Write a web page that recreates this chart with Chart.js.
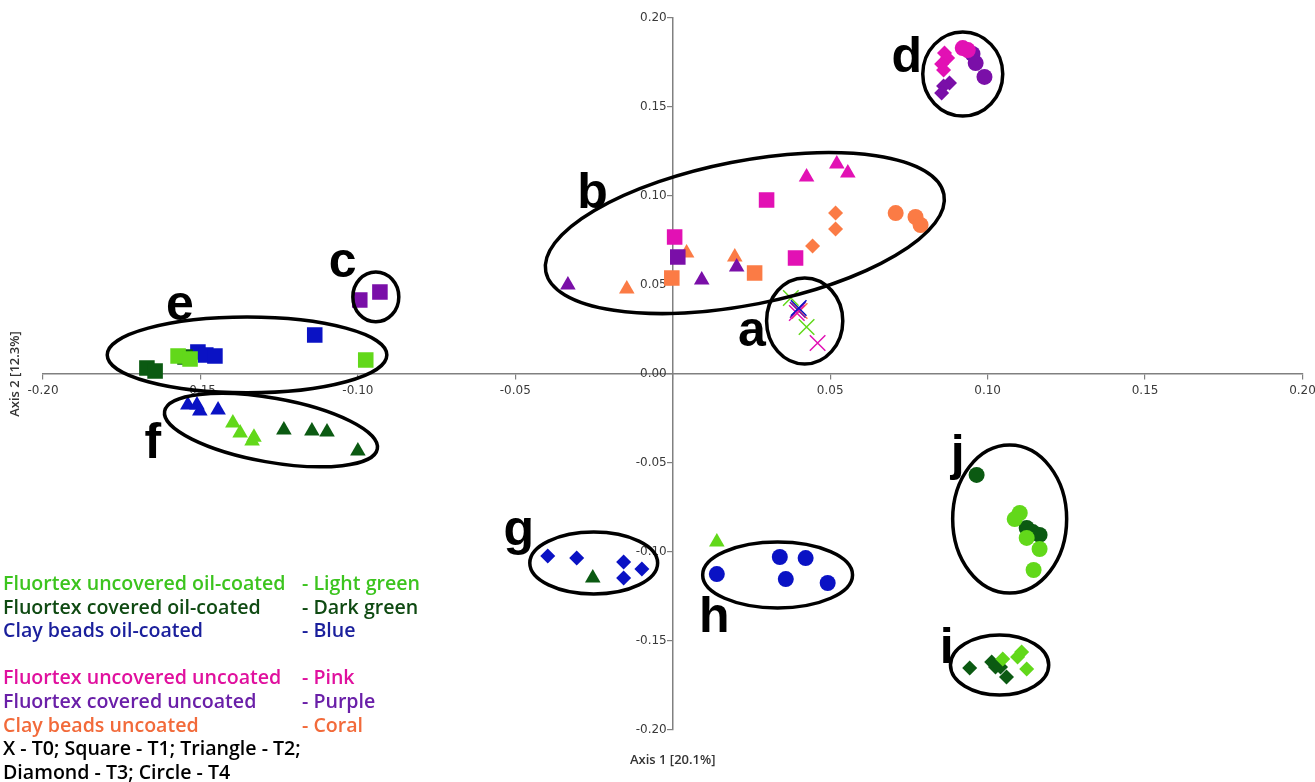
<!DOCTYPE html>
<html>
<head>
<meta charset="utf-8">
<script src="https://cdn.jsdelivr.net/npm/chart.js@4"></script>
<style>
  body { margin: 0; background: #fff; }
  #wrap { position: relative; width: 1315px; height: 782px; }
  #legend { position: absolute; left: 3px; top: 571px; font-family: "Open Sans", sans-serif; font-weight: 600; font-size: 19.6px; line-height: 23.6px; }
  #legend div { position: relative; height: 23.6px; white-space: nowrap; }
  #legend span.c2 { position: absolute; left: 299px; }
</style>
</head>
<body>
<div id="wrap">
  <canvas id="chart" width="1315" height="782"></canvas>
  <div id="legend"></div>
</div>
<script>
// points: [axis1, axis2, time]
const lightGreen = [
  [0.0375, 0.0427, "T0"], [0.0425, 0.0264, "T0"],
  [-0.1571, 0.0101, "T1"], [-0.1533, 0.0084, "T1"], [-0.0975, 0.0079, "T1"],
  [-0.1397, -0.0275, "T2"], [-0.1374, -0.0331, "T2"], [-0.1330, -0.0355, "T2"], [-0.1336, -0.0376, "T2"], [0.0140, -0.0944, "T2"],
  [0.1048, -0.1601, "T3"], [0.1095, -0.1590, "T3"], [0.1108, -0.1562, "T3"], [0.1124, -0.1657, "T3"],
  [0.1102, -0.0781, "T4"], [0.1086, -0.0815, "T4"], [0.1124, -0.0921, "T4"], [0.1165, -0.0983, "T4"], [0.1146, -0.1101, "T4"]
];
const darkGreen = [
  [-0.1670, 0.0034, "T1"], [-0.1644, 0.0017, "T1"], [-0.1549, 0.0096, "T1"],
  [-0.1235, -0.0315, "T2"], [-0.1146, -0.0320, "T2"], [-0.1098, -0.0326, "T2"], [-0.1000, -0.0433, "T2"], [-0.0254, -0.1146, "T2"],
  [0.0943, -0.1652, "T3"], [0.1013, -0.1618, "T3"], [0.1025, -0.1646, "T3"], [0.1041, -0.1646, "T3"], [0.1060, -0.1702, "T3"],
  [0.0965, -0.0567, "T4"], [0.1124, -0.0865, "T4"], [0.1143, -0.0888, "T4"], [0.1165, -0.0904, "T4"]
];
const blue = [
  [0.0400, 0.0371, "T0"],
  [-0.1508, 0.0124, "T1"], [-0.1483, 0.0107, "T1"], [-0.1454, 0.0101, "T1"], [-0.1137, 0.0219, "T1"],
  [-0.1540, -0.0174, "T2"], [-0.1511, -0.0174, "T2"], [-0.1502, -0.0208, "T2"], [-0.1444, -0.0202, "T2"],
  [-0.0397, -0.1022, "T3"], [-0.0305, -0.1034, "T3"], [-0.0156, -0.1056, "T3"], [-0.0098, -0.1096, "T3"], [-0.0156, -0.1146, "T3"],
  [0.0140, -0.1124, "T4"], [0.0340, -0.1028, "T4"], [0.0422, -0.1034, "T4"], [0.0359, -0.1152, "T4"], [0.0492, -0.1174, "T4"]
];
const pink = [
  [0.0394, 0.0343, "T0"], [0.0460, 0.0174, "T0"],
  [0.0006, 0.0770, "T1"], [0.0298, 0.0978, "T1"], [0.0390, 0.0652, "T1"],
  [0.0425, 0.1107, "T2"], [0.0521, 0.1180, "T2"], [0.0556, 0.1129, "T2"],
  [0.0863, 0.1803, "T3"], [0.0873, 0.1775, "T3"], [0.0854, 0.1742, "T3"], [0.0860, 0.1708, "T3"],
  [0.0921, 0.1831, "T4"], [0.0937, 0.1820, "T4"]
];
const purple = [
  [0.0397, 0.0360, "T0"],
  [0.0016, 0.0657, "T1"], [-0.0994, 0.0416, "T1"], [-0.0930, 0.0461, "T1"],
  [-0.0333, 0.0500, "T2"], [0.0092, 0.0528, "T2"], [0.0203, 0.0601, "T2"],
  [0.0879, 0.1635, "T3"], [0.0860, 0.1618, "T3"], [0.0854, 0.1579, "T3"],
  [0.0952, 0.1798, "T4"], [0.0962, 0.1747, "T4"], [0.0990, 0.1669, "T4"]
];
const coral = [
  [0.0403, 0.0354, "T0"],
  [-0.0003, 0.0539, "T1"], [0.0260, 0.0567, "T1"],
  [-0.0146, 0.0478, "T2"], [0.0044, 0.0680, "T2"], [0.0197, 0.0657, "T2"],
  [0.0444, 0.0719, "T3"], [0.0517, 0.0815, "T3"], [0.0517, 0.0904, "T3"],
  [0.0708, 0.0904, "T4"], [0.0771, 0.0882, "T4"], [0.0787, 0.0837, "T4"]
];

const axisTicks = [-0.20, -0.15, -0.10, -0.05, 0.00, 0.05, 0.10, 0.15, 0.20];
const groupNames = ["Fluortex uncovered oil-coated", "Fluortex covered oil-coated", "Clay beads oil-coated",
  "Fluortex uncovered uncoated", "Fluortex covered uncoated", "Clay beads uncoated"];
const colourNames = ["Light green", "Dark green", "Blue", "Pink", "Purple", "Coral"];
const shapeNote = ["X - T0; Square - T1; Triangle - T2;", "Diamond - T3; Circle - T4"];

// cluster ellipses: label, centre, half axes (axis units), tilt in degrees, label spot
const clusters = [
  { id: "a", cx: 0.0419, cy: 0.0298, rx: 0.0121, ry: 0.0242, rot: 0, lx: 0.0251, ly: 0.0157 },
  { id: "b", cx: 0.0229, cy: 0.0792, rx: 0.0644, ry: 0.0404, rot: -11, lx: -0.0255, ly: 0.0930 },
  { id: "c", cx: -0.0943, cy: 0.0433, rx: 0.0073, ry: 0.0140, rot: 0, lx: -0.1048, ly: 0.0545 },
  { id: "d", cx: 0.0921, cy: 0.1685, rx: 0.0127, ry: 0.0236, rot: 0, lx: 0.0743, ly: 0.1697 },
  { id: "e", cx: -0.1352, cy: 0.0107, rx: 0.0444, ry: 0.0213, rot: 0, lx: -0.1565, ly: 0.0305 },
  { id: "f", cx: -0.1276, cy: -0.0315, rx: 0.0343, ry: 0.0180, rot: 10, lx: -0.1651, ly: -0.0472 },
  { id: "g", cx: -0.0251, cy: -0.1062, rx: 0.0203, ry: 0.0174, rot: 0, lx: -0.0489, ly: -0.0961 },
  { id: "h", cx: 0.0333, cy: -0.1129, rx: 0.0238, ry: 0.0185, rot: 0, lx: 0.0132, ly: -0.1449 },
  { id: "i", cx: 0.1038, cy: -0.1635, rx: 0.0156, ry: 0.0169, rot: 0, lx: 0.0870, ly: -0.1624 },
  { id: "j", cx: 0.1070, cy: -0.0815, rx: 0.0181, ry: 0.0416, rot: 0, lx: 0.0905, ly: -0.0540 }
];

const markerColours = ["#62d81a", "#0b5a12", "#0a12c4", "#e211b4", "#7a0fa8", "#fb7b45"];
const textColours = ["#3cc41e", "#0f4a12", "#1a1f9c", "#e0109e", "#6a1fa8", "#f26a3a"];
const styleFor = { T0: "crossRot", T1: "rect", T2: "triangle", T3: "rectRot", T4: "circle" };
const radiusFor = { T0: 11, T1: 11, T2: 9, T3: 7.5, T4: 8 };

const groups = [lightGreen, darkGreen, blue, pink, purple, coral];

const datasets = groups.map((pts, g) => ({
  label: groupNames[g],
  data: pts.map(p => ({ x: p[0], y: p[1], t: p[2] })),
  backgroundColor: markerColours[g],
  borderColor: markerColours[g],
  pointStyle: ctx => styleFor[ctx.raw.t],
  pointRadius: ctx => radiusFor[ctx.raw.t],
  pointHoverRadius: ctx => radiusFor[ctx.raw.t],
  pointBorderWidth: ctx => ctx.raw.t === "T0" ? 1.5 : 0
}));

const tickFont = "12px 'DejaVu Sans', sans-serif";
const tickColour = "#3a3a3a";

const clusterPlugin = {
  id: "clusters",
  beforeDatasetsDraw(chart) {
    // y tick labels sit left of the centred axis
    const { ctx, scales: { x, y } } = chart;
    const ax = x.getPixelForValue(0);
    ctx.save();
    ctx.fillStyle = tickColour;
    ctx.font = tickFont;
    ctx.textAlign = "right";
    ctx.textBaseline = "middle";
    axisTicks.forEach(v => ctx.fillText(v.toFixed(2), ax - 6, y.getPixelForValue(v)));
    ctx.restore();
  },
  afterDatasetsDraw(chart) {
    const { ctx, scales: { x, y } } = chart;
    const pxX = Math.abs(x.getPixelForValue(1) - x.getPixelForValue(0));
    const pxY = Math.abs(y.getPixelForValue(1) - y.getPixelForValue(0));
    ctx.save();
    ctx.strokeStyle = "#000";
    ctx.lineWidth = 3.5;
    clusters.forEach(c => {
      ctx.beginPath();
      ctx.ellipse(x.getPixelForValue(c.cx), y.getPixelForValue(c.cy), c.rx * pxX, c.ry * pxY,
        c.rot * Math.PI / 180, 0, Math.PI * 2);
      ctx.stroke();
    });
    ctx.fillStyle = "#000";
    ctx.font = "bold 50px 'Liberation Sans', Arial, sans-serif";
    ctx.textAlign = "center";
    ctx.textBaseline = "alphabetic";
    clusters.forEach(c => {
      ctx.fillText(c.id, x.getPixelForValue(c.lx), y.getPixelForValue(c.ly));
    });
    // axis titles
    ctx.fillStyle = "#333";
    ctx.font = "600 13px 'Open Sans', sans-serif";
    ctx.textBaseline = "middle";
    ctx.fillText("Axis 1 [20.1%]", x.getPixelForValue(0), 760);
    ctx.translate(15, y.getPixelForValue(0));
    ctx.rotate(-Math.PI / 2);
    ctx.fillText("Axis 2 [12.3%]", 0, 0);
    ctx.restore();
  }
};

const axisCommon = {
  type: "linear",
  min: axisTicks[0],
  max: axisTicks[axisTicks.length - 1],
  afterBuildTicks: axis => { axis.ticks = axisTicks.map(v => ({ value: v })); },
  afterFit: axis => { axis.paddingLeft = 0; axis.paddingRight = 0; axis.paddingTop = 0; axis.paddingBottom = 0; },
  grid: { drawOnChartArea: false, drawTicks: true, tickLength: 5, color: "#808080", lineWidth: 1.2 },
  border: { display: true, color: "#808080", width: 1.5 }
};

new Chart(document.getElementById("chart"), {
  type: "scatter",
  data: { datasets },
  options: {
    responsive: false,
    devicePixelRatio: 1,
    animation: false,
    layout: { padding: { left: 43, right: 12, top: 18, bottom: 52 } },
    plugins: { legend: { display: false }, tooltip: { enabled: false } },
    scales: {
      x: Object.assign({}, axisCommon, {
        position: { y: 0 },
        ticks: {
          padding: 5, color: tickColour, font: { family: "DejaVu Sans", size: 12 },
          callback: v => v === 0 ? "" : v.toFixed(2)
        }
      }),
      y: Object.assign({}, axisCommon, {
        position: { x: 0 },
        ticks: { display: false }
      })
    }
  },
  plugins: [clusterPlugin]
});

// text key in the lower left
const legend = document.getElementById("legend");
function addLine(text, colour, second) {
  const div = document.createElement("div");
  div.style.color = colour;
  div.textContent = text;
  if (second) {
    const s = document.createElement("span");
    s.className = "c2";
    s.textContent = second;
    div.appendChild(s);
  }
  legend.appendChild(div);
}
groupNames.forEach((name, g) => {
  if (g === 3) addLine("\u00a0", "#000");
  addLine(name, textColours[g], "- " + colourNames[g]);
});
shapeNote.forEach(t => addLine(t, "#000"));
</script>
</body>
</html>
